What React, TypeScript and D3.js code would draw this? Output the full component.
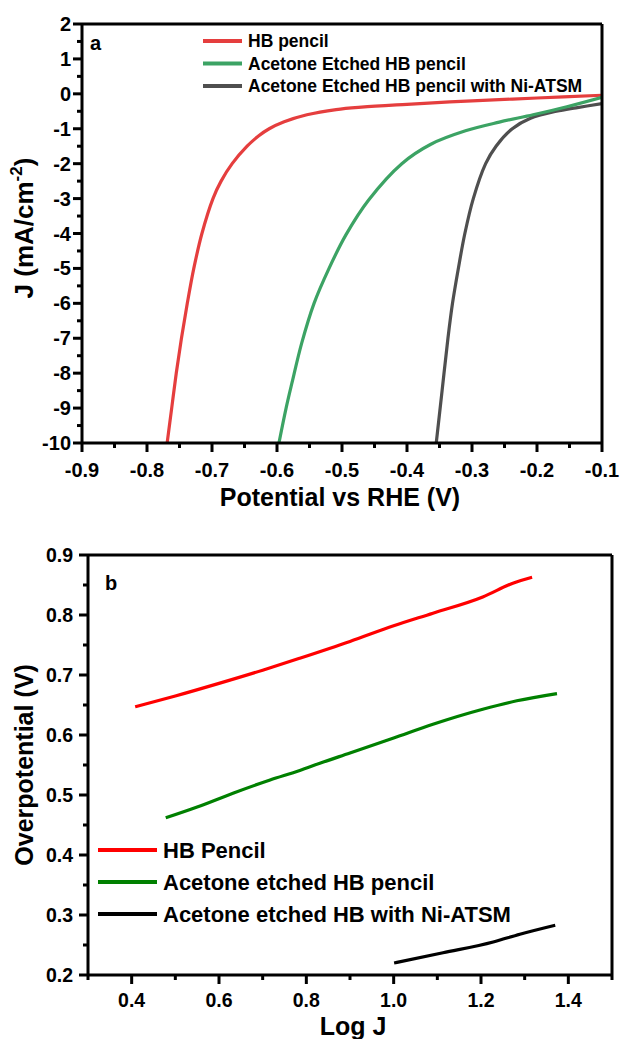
import React from "react";
import * as d3 from "d3";

// ---------- Panel a data (Potential vs RHE (V), J mA/cm^-2) ----------
const hbPencilA: [number, number][] = [
  [-0.769, -10], [-0.762, -9], [-0.755, -8], [-0.747, -7], [-0.738, -6], [-0.728, -5],
  [-0.7155, -4], [-0.6985, -3], [-0.686, -2.5], [-0.669, -2], [-0.646, -1.5], [-0.628, -1.2],
  [-0.612, -1.0], [-0.589, -0.8], [-0.554, -0.6], [-0.509, -0.45], [-0.47, -0.38],
  [-0.4, -0.3], [-0.3, -0.2], [-0.2, -0.12], [-0.1, -0.04],
];
const etchedA: [number, number][] = [
  [-0.597, -10], [-0.586, -9.0], [-0.577, -8.28], [-0.562, -7.14], [-0.543, -6.0],
  [-0.521, -5.04], [-0.494, -4.04], [-0.459, -3.04], [-0.408, -2.0], [-0.364, -1.45],
  [-0.31, -1.06], [-0.258, -0.81], [-0.206, -0.6], [-0.154, -0.37], [-0.1, -0.1],
];
const niAtsmA: [number, number][] = [
  [-0.355, -10], [-0.346, -8.5], [-0.337, -7], [-0.33, -6], [-0.321, -5], [-0.311, -4],
  [-0.298, -3], [-0.279, -2], [-0.263, -1.5], [-0.238, -1.0], [-0.21, -0.7],
  [-0.17, -0.5], [-0.14, -0.4], [-0.1, -0.28],
];
const legendA = ["HB pencil", "Acetone Etched HB pencil", "Acetone Etched HB pencil with Ni-ATSM"];
const colorsA = ["#e53e3e", "#3ca364", "#4f4f4f"];
const xTicksA = [-0.9, -0.8, -0.7, -0.6, -0.5, -0.4, -0.3, -0.2, -0.1];
const xMinorA = [-0.85, -0.75, -0.65, -0.55, -0.45, -0.35, -0.25, -0.15];
const yTicksA = [2, 1, 0, -1, -2, -3, -4, -5, -6, -7, -8, -9, -10];
const yMinorA = [1.5, 0.5, -0.5, -1.5, -2.5, -3.5, -4.5, -5.5, -6.5, -7.5, -8.5, -9.5];

// ---------- Panel b data (Log J, Overpotential V) ----------
const hbPencilB: [number, number][] = [
  [0.408, 0.647], [0.5, 0.665], [0.6, 0.686], [0.7, 0.708], [0.785, 0.728], [0.9, 0.756],
  [1.0, 0.782], [1.09, 0.803], [1.204, 0.83], [1.273, 0.853], [1.317, 0.863],
];
const etchedB: [number, number][] = [
  [0.478, 0.462], [0.55, 0.48], [0.632, 0.503], [0.717, 0.525], [0.785, 0.541], [0.831, 0.553],
  [0.9, 0.57], [1.0, 0.595], [1.09, 0.618], [1.204, 0.643], [1.282, 0.657], [1.374, 0.669],
];
const niAtsmB: [number, number][] = [
  [1.001, 0.22], [1.113, 0.237], [1.228, 0.255], [1.289, 0.268], [1.37, 0.283],
];
const legendB = ["HB Pencil", "Acetone etched HB pencil", "Acetone etched HB with Ni-ATSM"];
const colorsB = ["#ff0000", "#008000", "#000000"];
const xTicksB = [0.4, 0.6, 0.8, 1.0, 1.2, 1.4];
const xMinorB = [0.3, 0.5, 0.7, 0.9, 1.1, 1.3, 1.5];
const yTicksB = [0.9, 0.8, 0.7, 0.6, 0.5, 0.4, 0.3, 0.2];
const yMinorB = [0.85, 0.75, 0.65, 0.55, 0.45, 0.35, 0.25];

const FONT = "'Liberation Sans', Arial, Helvetica, sans-serif";

export default function App() {
  // Panel a scales
  const xA = d3.scaleLinear().domain([-0.9, -0.1]).range([82, 602]);
  const yA = d3.scaleLinear().domain([-10, 2]).range([443, 24]);
  const lineA = d3
    .line<[number, number]>()
    .x((d) => xA(d[0]))
    .y((d) => yA(d[1]))
    .curve(d3.curveCatmullRom.alpha(0.5));

  // Panel b scales
  const xB = d3.scaleLinear().domain([0.3, 1.5]).range([88, 612]);
  const yB = d3.scaleLinear().domain([0.2, 0.9]).range([975, 555]);
  const lineB = d3
    .line<[number, number]>()
    .x((d) => xB(d[0]))
    .y((d) => yB(d[1]))
    .curve(d3.curveMonotoneX);

  const seriesA = [hbPencilA, etchedA, niAtsmA];
  const seriesB = [hbPencilB, etchedB, niAtsmB];
  const fmtA = (v: number) => (Number.isInteger(v) ? String(v) : v.toFixed(1));

  const AX = 3;
  return (
    <svg
      width={622}
      height={1039}
      style={{ position: "absolute", left: 0, top: 0, background: "#fff" }}
      fontFamily={FONT}
      fontWeight="bold"
    >
      <defs>
        <clipPath id="clipA">
          <rect x={82} y={24} width={520} height={419} />
        </clipPath>
        <clipPath id="clipB">
          <rect x={88} y={555} width={524} height={420} />
        </clipPath>
      </defs>

      {/* ================= Panel a ================= */}
      <g clipPath="url(#clipA)">
        {[2, 0, 1].map((i) => (
          <path key={i} d={lineA(seriesA[i]) || ""} fill="none" stroke={colorsA[i]} strokeWidth={3.2} />
        ))}
      </g>
      <line x1={82} x2={602} y1={24} y2={24} stroke="#000" strokeWidth={AX} />
      <line x1={602} x2={602} y1={24} y2={443} stroke="#000" strokeWidth={AX} />
      <line x1={82} x2={82} y1={24} y2={443} stroke="#000" strokeWidth={AX} />
      <line x1={82} x2={602} y1={443} y2={443} stroke="#000" strokeWidth={AX} />
      {xTicksA.map((t) => (
        <g key={"xa" + t}>
          <line x1={xA(t)} x2={xA(t)} y1={443} y2={452} stroke="#000" strokeWidth={AX} />
          <text x={xA(t)} y={477} textAnchor="middle" fontSize={20}>
            {t.toFixed(1)}
          </text>
        </g>
      ))}
      {xMinorA.map((t) => (
        <line key={"xam" + t} x1={xA(t)} x2={xA(t)} y1={443} y2={448} stroke="#000" strokeWidth={AX} />
      ))}
      {yTicksA.map((t) => (
        <g key={"ya" + t}>
          <line x1={73} x2={82} y1={yA(t)} y2={yA(t)} stroke="#000" strokeWidth={AX} />
          <text x={71} y={yA(t)} textAnchor="end" dominantBaseline="central" fontSize={20}>
            {fmtA(t)}
          </text>
        </g>
      ))}
      {yMinorA.map((t) => (
        <line key={"yam" + t} x1={77} x2={82} y1={yA(t)} y2={yA(t)} stroke="#000" strokeWidth={AX} />
      ))}
      <text x={340} y={506} textAnchor="middle" fontSize={25}>
        Potential vs RHE (V)
      </text>
      <text transform="translate(33,228) rotate(-90)" textAnchor="middle" fontSize={26}>
        J (mA/cm
        <tspan fontSize={17} dy={-11}>
          -2
        </tspan>
        <tspan dy={11}>)</tspan>
      </text>
      <text x={90} y={50} fontSize={20}>
        a
      </text>
      {legendA.map((name, i) => (
        <g key={"la" + i}>
          <line x1={203} x2={242} y1={41 + i * 22.5} y2={41 + i * 22.5} stroke={colorsA[i]} strokeWidth={4} />
          <text x={248} y={41 + i * 22.5} dominantBaseline="central" fontSize={17.5}>
            {name}
          </text>
        </g>
      ))}

      {/* ================= Panel b ================= */}
      <g clipPath="url(#clipB)">
        {[0, 1, 2].map((i) => (
          <path key={i} d={lineB(seriesB[i]) || ""} fill="none" stroke={colorsB[i]} strokeWidth={3.2} />
        ))}
      </g>
      <line x1={88} x2={612} y1={555} y2={555} stroke="#000" strokeWidth={AX} />
      <line x1={612} x2={612} y1={555} y2={975} stroke="#000" strokeWidth={AX} />
      <line x1={88} x2={88} y1={555} y2={975} stroke="#000" strokeWidth={AX} />
      <line x1={88} x2={612} y1={975} y2={975} stroke="#000" strokeWidth={AX} />
      {xTicksB.map((t) => (
        <g key={"xb" + t}>
          <line x1={xB(t)} x2={xB(t)} y1={975} y2={984} stroke="#000" strokeWidth={AX} />
          <text x={xB(t)} y={1007} textAnchor="middle" fontSize={19.5}>
            {t.toFixed(1)}
          </text>
        </g>
      ))}
      {xMinorB.map((t) => (
        <line key={"xbm" + t} x1={xB(t)} x2={xB(t)} y1={975} y2={980} stroke="#000" strokeWidth={AX} />
      ))}
      {yTicksB.map((t) => (
        <g key={"yb" + t}>
          <line x1={79} x2={88} y1={yB(t)} y2={yB(t)} stroke="#000" strokeWidth={AX} />
          <text x={73} y={yB(t)} textAnchor="end" dominantBaseline="central" fontSize={19.5}>
            {t.toFixed(1)}
          </text>
        </g>
      ))}
      {yMinorB.map((t) => (
        <line key={"ybm" + t} x1={83} x2={88} y1={yB(t)} y2={yB(t)} stroke="#000" strokeWidth={AX} />
      ))}
      <text x={353} y={1035} textAnchor="middle" fontSize={25}>
        Log J
      </text>
      <text transform="translate(33,765) rotate(-90)" textAnchor="middle" fontSize={25}>
        Overpotential (V)
      </text>
      <text x={105} y={590} fontSize={20}>
        b
      </text>
      {legendB.map((name, i) => (
        <g key={"lb" + i}>
          <line x1={98} x2={157} y1={850 + i * 32} y2={850 + i * 32} stroke={colorsB[i]} strokeWidth={4} />
          <text x={163} y={850 + i * 32} dominantBaseline="central" fontSize={22}>
            {name}
          </text>
        </g>
      ))}
    </svg>
  );
}
